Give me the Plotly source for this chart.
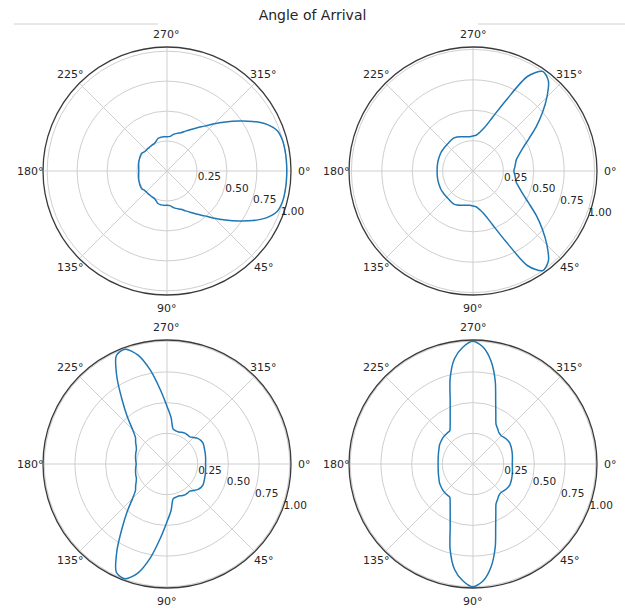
import math
import plotly.graph_objects as go

# Beam pattern magnitude (normalised) sampled every 5 degrees, 0..360 clockwise from east
theta_deg = list(range(0, 365, 5))

r_steer_0 = [
    1.00, 1.00, 1.00, 0.997, 0.98, 0.92, 0.827, 0.727, 0.636, 0.558, 0.489, 0.441,
    0.40, 0.367, 0.34, 0.325, 0.31, 0.29, 0.286, 0.288, 0.287, 0.283, 0.265, 0.252,
    0.25, 0.247, 0.246, 0.245, 0.248, 0.258, 0.256, 0.252, 0.249, 0.245, 0.24, 0.237,
    0.236,
    0.237, 0.24, 0.245, 0.249, 0.252, 0.256, 0.258, 0.248, 0.245, 0.246, 0.247, 0.25,
    0.252, 0.265, 0.283, 0.287, 0.288, 0.286, 0.29, 0.31, 0.325, 0.34, 0.367, 0.40,
    0.441, 0.489, 0.558, 0.636, 0.727, 0.827, 0.92, 0.98, 0.997, 1.00, 1.00, 1.00,
]

r_steer_55 = [
    0.336, 0.345, 0.355, 0.37, 0.405, 0.455, 0.53, 0.634, 0.745, 0.86, 0.965, 1.00,
    0.90, 0.64, 0.47, 0.372, 0.324, 0.295, 0.288, 0.283, 0.287, 0.292, 0.30, 0.309,
    0.314, 0.311, 0.307, 0.305, 0.305, 0.304, 0.304, 0.302, 0.30, 0.299, 0.297, 0.296,
    0.295,
    0.296, 0.297, 0.299, 0.30, 0.302, 0.304, 0.304, 0.305, 0.305, 0.307, 0.311, 0.314,
    0.309, 0.30, 0.292, 0.287, 0.283, 0.288, 0.295, 0.324, 0.372, 0.47, 0.64, 0.90,
    1.00, 0.965, 0.86, 0.745, 0.634, 0.53, 0.455, 0.405, 0.37, 0.355, 0.345, 0.336,
]

r_steer_112 = [
    0.314, 0.316, 0.319, 0.323, 0.327, 0.333, 0.339, 0.336, 0.325, 0.305, 0.289, 0.29,
    0.291, 0.285, 0.278, 0.28, 0.288, 0.38, 0.47, 0.603, 0.774, 0.92, 0.995, 0.975,
    0.816, 0.637, 0.503, 0.396, 0.335, 0.312, 0.29, 0.275, 0.27, 0.265, 0.26, 0.255,
    0.251,
    0.255, 0.26, 0.265, 0.27, 0.275, 0.29, 0.312, 0.335, 0.396, 0.503, 0.637, 0.816,
    0.975, 0.995, 0.92, 0.774, 0.603, 0.47, 0.38, 0.288, 0.28, 0.278, 0.285, 0.291,
    0.29, 0.289, 0.305, 0.325, 0.336, 0.339, 0.333, 0.327, 0.323, 0.319, 0.316, 0.314,
]

r_steer_90 = [
    0.32, 0.322, 0.326, 0.331, 0.336, 0.341, 0.345, 0.342, 0.334, 0.326, 0.33, 0.35,
    0.375, 0.44, 0.54, 0.70, 0.85, 0.955, 1.00, 0.955, 0.87, 0.72, 0.543, 0.44,
    0.372, 0.33, 0.328, 0.327, 0.324, 0.319, 0.314, 0.305, 0.298, 0.292, 0.288, 0.285,
    0.284,
    0.285, 0.288, 0.292, 0.298, 0.305, 0.314, 0.319, 0.324, 0.327, 0.328, 0.33, 0.372,
    0.44, 0.543, 0.72, 0.87, 0.955, 1.00, 0.955, 0.85, 0.70, 0.54, 0.44, 0.375,
    0.35, 0.33, 0.326, 0.334, 0.342, 0.345, 0.341, 0.336, 0.331, 0.326, 0.322, 0.32,
]

series = [r_steer_0, r_steer_55, r_steer_112, r_steer_90]
radial_max = [1.035, 1.02, 1.01, 1.01]

angle_ticks = [0, 45, 90, 135, 180, 225, 270, 315]
angle_labels = ["0°", "45°", "90°", "135°", "180°", "225°", "270°", "315°"]
radial_ticks = [0.25, 0.50, 0.75, 1.00]
radial_labels = ["0.25", "0.50", "0.75", "1.00"]

W, H = 625, 608
centers = [(167, 171), (473, 171), (167, 464), (473, 464)]
RAD = 124          # outer circle radius, px
LABEL_R = 137      # centre distance of the angular tick labels, px

TEXT = "#262626"
GRID = "#cfcfcf"
FONT = "DejaVu Sans"

fig = go.Figure()
layout = dict(
    width=W, height=H, autosize=False,
    margin=dict(l=0, r=0, t=0, b=0),
    paper_bgcolor="white", plot_bgcolor="white",
    showlegend=False,
    font=dict(family=FONT, size=11, color=TEXT),
    title=dict(text="Angle of Arrival", x=0.5, xanchor="center",
               y=1 - 15 / H, yanchor="middle", yref="container",
               font=dict(family=FONT, size=14, color=TEXT)),
)
annotations = []

for i, (r_vals, rmax, (cx, cy)) in enumerate(zip(series, radial_max, centers)):
    key = "polar" if i == 0 else f"polar{i + 1}"
    fig.add_trace(go.Scatterpolar(
        r=r_vals, theta=theta_deg, mode="lines",
        line=dict(color="#1f77b4", width=1.5, shape="spline", smoothing=0.8),
        subplot=key, hoverinfo="skip",
    ))
    layout[key] = dict(
        domain=dict(x=[(cx - RAD) / W, (cx + RAD) / W],
                    y=[1 - (cy + RAD) / H, 1 - (cy - RAD) / H]),
        bgcolor="white",
        angularaxis=dict(
            rotation=0, direction="clockwise",
            tickmode="array", tickvals=angle_ticks, ticktext=angle_labels,
            showticklabels=False,
            showline=True, linecolor="#3a3a3a", linewidth=1.3,
            showgrid=True, gridcolor=GRID, gridwidth=1, ticks="",
        ),
        radialaxis=dict(
            range=[0, rmax], angle=-22.5, side="counterclockwise",
            tickmode="array", tickvals=radial_ticks, ticktext=radial_labels,
            showline=False, ticks="", tickangle=-22.5,
            showgrid=True, gridcolor=GRID, gridwidth=1,
            tickfont=dict(family=FONT, size=10.5, color=TEXT),
        ),
    )
    # angular tick labels centred on a ring just outside the frame
    for ang, txt in zip(angle_ticks, angle_labels):
        a = math.radians(ang)
        px = cx + LABEL_R * math.cos(a)
        py = cy + LABEL_R * math.sin(a)
        annotations.append(dict(
            text=txt, x=px / W, y=1 - py / H, xref="paper", yref="paper",
            xanchor="center", yanchor="middle", showarrow=False,
            font=dict(family=FONT, size=11, color=TEXT),
        ))

layout["annotations"] = annotations

# thin rule either side of the title
layout["shapes"] = [
    dict(type="line", xref="paper", yref="paper",
         x0=14 / W, x1=158 / W, y0=1 - 24 / H, y1=1 - 24 / H,
         line=dict(color="#d0d0d0", width=1)),
    dict(type="line", xref="paper", yref="paper",
         x0=478 / W, x1=1, y0=1 - 24 / H, y1=1 - 24 / H,
         line=dict(color="#d0d0d0", width=1)),
]

fig.update_layout(**layout)
fig.write_html("out.html")
